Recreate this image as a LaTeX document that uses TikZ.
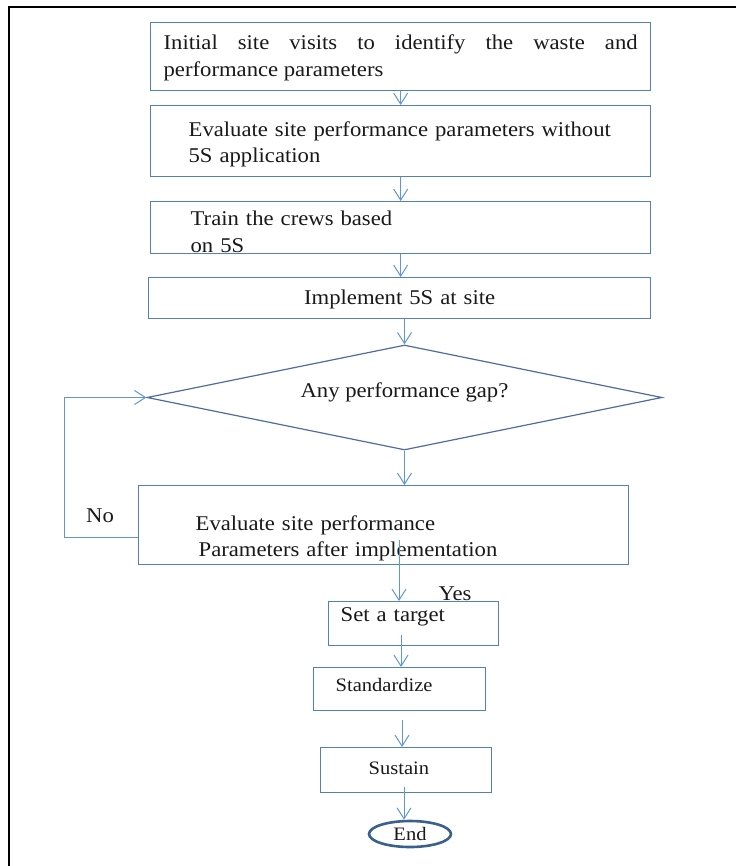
\documentclass[tikz,border=0pt]{standalone}
\usepackage{fontspec}
\setmainfont{Liberation Serif}[FakeStretch=1.08]
\usetikzlibrary{shapes.geometric,arrows.meta,calc}
\definecolor{boxblue}{RGB}{84,128,186}
\definecolor{arrowblue}{RGB}{96,150,212}
\definecolor{gapblue}{RGB}{78,108,160}
\definecolor{endblue}{RGB}{58,96,142}

\begin{document}
\begin{tikzpicture}[x=1pt, y=-1pt, >={Straight Barb[length=11pt,width=14pt]},
  box/.style={draw=boxblue, line width=1.3pt, rectangle, anchor=north west,
    align=left, inner ysep=0pt, text=black!90, font=\fontsize{21}{26}\selectfont},
  smallbox/.style={box, font=\fontsize{19}{23}\selectfont},
  flow/.style={->, draw=arrowblue, line width=1pt},
  lbl/.style={text=black!90, font=\fontsize{21}{25}\selectfont}]
  % page: 736 x 866 px, y runs downward
  \useasboundingbox (0,0) rectangle (736,866);
  \draw[line width=2pt] (736,7) -- (9,7) -- (9,866);

  % steps before 5S
  \node[box, text width=474, inner xsep=13, text height=27, text depth=41, align=justify,
    font=\fontsize{21}{27}\selectfont] (visit) at (150,22)
    {Initial site visits to identify the waste and\linebreak performance parameters};
  \node[box, text width=424, inner xsep=38, text height=31, text depth=40] (evalpre) at (150,105)
    {Evaluate site performance parameters without\\5S application};
  \node[box, text width=420, inner xsep=40, text height=24, text depth=28,
    font=\fontsize{21}{27}\selectfont] (train) at (150,201)
    {Train the crews based\\on 5S};
  \node[box, text width=502, inner xsep=0, text height=27, text depth=14, align=center] (impl) at (148,277)
    {Implement 5S at site};

  % decision
  \node[diamond, draw=gapblue, line width=1.2pt, aspect=4.9, inner sep=0pt,
    minimum width=515, minimum height=105, text height=10, text depth=10,
    text=black!90, font=\fontsize{21}{25}\selectfont] (gap) at (404.5,397.5)
    {Any performance gap?};

  \node[box, text width=376, inner xsep=57, text height=45, text depth=34] (evalpost) at (138,485)
    {Evaluate site performance\\\hspace*{3pt}Parameters after implementation};

  % closing steps
  \node[box, text width=146, inner xsep=12, text height=20, text depth=24] (target) at (328,601)
    {Set a target};
  \node[smallbox, text width=128, inner xsep=22, text height=24, text depth=19] (std) at (313,667)
    {Standardize};
  \node[smallbox, text width=75, inner xsep=48, text height=27, text depth=18] (sus) at (320,747)
    {Sustain};
  \node[ellipse, draw=endblue, line width=2.6pt, minimum width=82, minimum height=26,
    inner sep=0pt, text=black!90, font=\fontsize{19}{23}\selectfont] (stop) at (410,834)
    {End};

  % connectors
  \draw[flow] (visit.south) -- (evalpre.north);
  \draw[flow] (evalpre.south) -- (train.north);
  \draw[flow] (train.south) -- (train.south |- impl.north);
  \draw[flow] (gap.north |- impl.south) -- (gap.north);
  \draw[flow] (gap.south) -- (gap.south |- evalpost.north);
  \coordinate (yesfoot) at (399,540);
  \draw[flow] (yesfoot) -- (yesfoot |- target.north);
  \coordinate (tfoot) at (401,635);
  \draw[flow] (tfoot) -- (tfoot |- std.north);
  \coordinate (sfoot) at (402,720);
  \draw[flow] (sfoot) -- (sfoot |- sus.north);
  \coordinate (ufoot) at (404,787);
  \draw[flow] (ufoot) -- (ufoot |- stop.north);

  % No loop back to the decision
  \draw[flow] ($(evalpost.west)+(0,12.5)$) -- ++(-74,0) |- (gap.west);
  \node[lbl] (no) at (100,516) {No};
  \node[lbl] (yes) at (455,594) {Yes};
\end{tikzpicture}
\end{document}
